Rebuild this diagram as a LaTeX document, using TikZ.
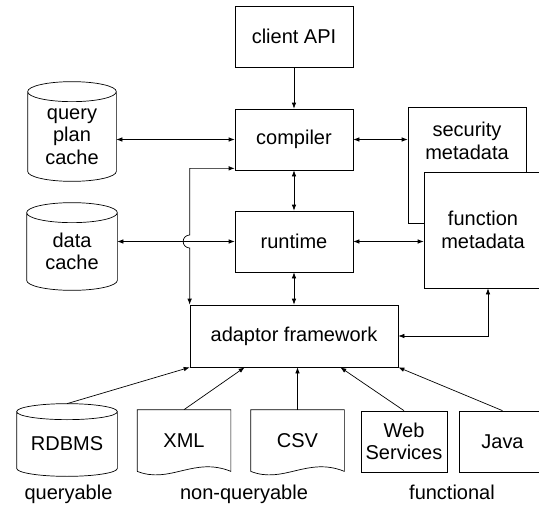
\documentclass[tikz,border=0pt]{standalone}
\usepackage{fontspec}
\setmainfont{Liberation Sans}
\usepackage{tikz}
\usetikzlibrary{calc, arrows.meta}

% cylinder outline round a node (top ellipse centred on its north side)
\newcommand{\drawcyl}[2][10pt]{%
  \draw let \p1=(#2.north west), \p2=(#2.south east) in
    ({(\x1+\x2)/2},\y1) ellipse [x radius={(\x2-\x1)/2}, y radius=#1]
    (\x1,\y1) -- (\x1,\y2+#1)
    arc [start angle=180, end angle=360, x radius={(\x2-\x1)/2}, y radius=#1]
    -- (\x2,\y1);}

% document outline with a wavy bottom
\newcommand{\drawdoc}[1]{%
  \draw (#1.south west) -- (#1.north west) -- (#1.north east) -- (#1.south east)
    .. controls +(-37,-15) and +(33,13) .. (#1.south west);}

\begin{document}
\begin{tikzpicture}[x=1pt, y=-1pt, line width=0.7pt,
    font=\fontsize{20}{22.5}\selectfont,
    box/.style={draw, fill=white, minimum width=118pt, minimum height=61pt,
      inner sep=0pt, align=center},
    store/.style={inner sep=0pt, align=center},
    doc/.style={inner sep=0pt, minimum width=93pt, minimum height=61pt},
    arr/.style={-{Latex[length=6pt,width=4.5pt]}},
    dbl/.style={{Latex[length=6pt,width=4.5pt]}-{Latex[length=6pt,width=4.5pt]}}]
    \useasboundingbox (0,0) rectangle (539,506);

    % the core of the system
    \node[box] (client) at (294,36.5) {client API};
    \node[box] (compiler) at (294,139.5) {compiler};
    \node[box] (runtime) at (294,241.5) {runtime};
    \node[box, minimum width=208pt, minimum height=62pt] (adaptor) at (294,336) {adaptor framework};

    % metadata on the right (function box lies over the security box)
    \node[box, minimum height=116pt,
      label={[align=center, anchor=north, yshift=-12pt]north:security\\metadata}] (secmeta) at (467,165) {};
    \node[box, minimum height=116pt] (funcmeta) at (483,230) {function\\metadata};

    % caches on the left
    \node[store, minimum width=88pt, minimum height=89pt] (qpcache) at (72,136.5) {query\\plan\\cache};
    \drawcyl{qpcache}
    \node[store, minimum width=90pt, minimum height=77pt] (dcache) at (72,251.5) {data\\cache};
    \drawcyl{dcache}

    % data sources
    \node[store, minimum width=100pt, minimum height=64pt] (rdbms) at (67,444) {RDBMS};
    \drawcyl[8pt]{rdbms}
    \node[doc] (xml) at (184,440.5) {XML};
    \drawdoc{xml}
    \node[doc] (csv) at (297.5,440.5) {CSV};
    \drawdoc{csv}
    \node[box, minimum width=86pt] (websvc) at (404,441.5) {Web\\Services};
    \node[box, minimum width=87pt] (java) at (502.5,441.5) {Java};

    % kinds of sources
    \node[anchor=base] (lquery) at (68.5,499) {queryable};
    \node[anchor=base] (lnonquery) at (244,499) {non-queryable};
    \node[anchor=base] (lfunc) at (452,499) {functional};

    % arrows between the core parts
    \draw[arr] (client) -- (compiler);
    \draw[dbl] (compiler) -- (runtime);
    \draw[dbl] (runtime) -- (adaptor);
    \draw[dbl] (qpcache.east |- compiler.west) -- (compiler.west);
    \draw[dbl] (dcache.east |- runtime.west) -- (runtime.west);
    \draw[dbl] (compiler.east) -- (compiler.east -| secmeta.west);
    \draw[dbl] (runtime.east) -- (runtime.east -| funcmeta.west);

    % adaptor framework up to the compiler, hopping over the cache line
    \draw[dbl] (adaptor.north west) -- ($(runtime.west -| adaptor.north west)+(0,6.5)$)
      arc [start angle=270, end angle=90, radius=6.5pt]
      |- ($(compiler.south west)+(0,-2)$);

    % function metadata down to the adaptor framework
    \coordinate (fmfoot) at ($(funcmeta.south)+(5,0)$);
    \draw[dbl] (adaptor.east) -| (fmfoot);

    % data sources up to the adaptor framework
    \draw[arr] ($(rdbms.north)+(0,-8)$) -- (adaptor.south west);
    \draw[arr] (xml.north) -- ($(adaptor.south west)+(55,0)$);
    \draw[arr] (csv.north) -- (csv.north |- adaptor.south);
    \draw[arr] (websvc.north) -- ($(adaptor.south east)+(-58,0)$);
    \draw[arr] (java.north) -- (adaptor.south east);

\end{tikzpicture}
\end{document}
